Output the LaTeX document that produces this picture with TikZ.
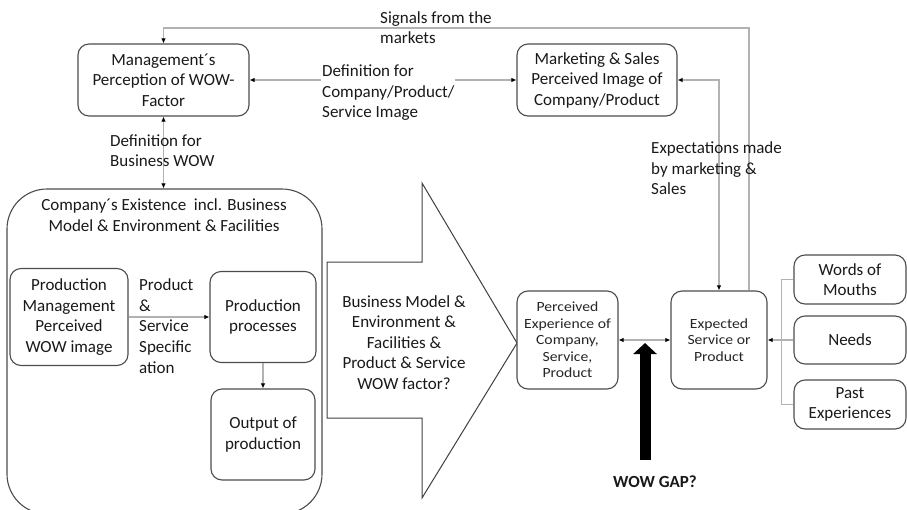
\documentclass[tikz,border=0pt]{standalone}
\usepackage{fontspec}
\setmainfont{Carlito}
\newfontfamily\widefont[FakeStretch=1.12]{Carlito}
\usetikzlibrary{arrows.meta}
\begin{document}
\begin{tikzpicture}[x=1pt,y=-1pt,
  bigtxt/.style={font=\fontsize{17}{20.5}\selectfont, text=black!90},
  smalltxt/.style={font=\widefont\fontsize{14}{16.5}\selectfont, text=black!85},
  box/.style={draw=black!70, line width=1.1pt, rounded corners=11pt, align=center,
    inner sep=0pt, fill=white},
  conn/.style={draw=black!30, line width=1.2pt},
  tip/.style={-{Latex[length=5pt,width=4.5pt,color=black]}},
  tips/.style={{Latex[length=5pt,width=4.5pt,color=black]}-{Latex[length=5pt,width=4.5pt,color=black]}},
  lbl/.style={bigtxt, align=left, anchor=west, inner sep=0pt}
]
\useasboundingbox (0,0) rectangle (907,509);
\clip (0,0) rectangle (907,509);

% company container
\node[box, rounded corners=40pt, minimum width=315pt, minimum height=325pt] (comp) at (164.5,351.5) {};
\node[bigtxt, align=center, inner sep=0pt] (comptitle) at (164,215)
  {Company´s Existence~ incl. Business\\Model \& Environment \& Facilities};

% management boxes
\node[box, bigtxt, minimum width=171pt, minimum height=72pt] (mgmt) at (163.5,80)
  {Management´s\\Perception of WOW-\\Factor};
\node[box, bigtxt, minimum width=160pt, minimum height=72pt] (mkt) at (597,80)
  {Marketing \& Sales\\Perceived Image of\\Company/Product};

% production boxes
\node[box, bigtxt, minimum width=118pt, minimum height=97pt] (pm) at (69,317)
  {Production\\Management\\Perceived\\WOW image};
\node[box, bigtxt, minimum width=106pt, minimum height=91pt] (pp) at (263,317)
  {Production\\processes};
\node[box, bigtxt, minimum width=104pt, minimum height=91pt] (out) at (263,434.5)
  {Output of\\production};

% big arrow
\draw[draw=black!75, line width=1pt, fill=white]
  (327,262) -- (422,262) -- (422,183) -- (517,343) -- (422,498) -- (422,418) -- (327,418) -- cycle;
\node[bigtxt, align=center, inner sep=0pt] (bm) at (404,342.5)
  {Business Model \&\\Environment \&\\Facilities \&\\Product \& Service\\WOW factor?};

% experience boxes
\node[box, smalltxt, minimum width=101pt, minimum height=98pt] (perc) at (567.5,340)
  {Perceived\\Experience of\\Company,\\Service,\\Product};
\node[box, smalltxt, minimum width=96pt, minimum height=98pt] (exp) at (719,340)
  {Expected\\Service or\\Product};

% customer inputs
\node[box, bigtxt, minimum width=112pt, minimum height=49pt] (wom) at (850,279.5)
  {Words of\\Mouths};
\node[box, bigtxt, minimum width=112pt, minimum height=48pt] (needs) at (850,340)
  {Needs};
\node[box, bigtxt, minimum width=112pt, minimum height=49pt] (past) at (850,404.5)
  {Past\\Experiences};

% connectors
\coordinate (topR) at (749,28);
\draw[conn, tip] (exp.north -| topR) -- (topR) -| (mgmt.north);
\draw[conn, tips] (mgmt.east) -- (mkt.west);
\draw[conn, tips] (mkt.east) -| (exp.north);
\draw[conn, tips] (mgmt.south) -- (mgmt.south |- comp.north);
\draw[conn, tip] (pm.east) -- (pp.west);
\draw[conn, tip] (pp.south) -- (out.north);
\draw[conn, tips] (perc.east) -- (exp.west);
\draw[conn, tip] (needs.west) -- (exp.east);
\draw[conn] (wom.west) -- ++(-12,0) |- (past.west);

% labels
\node[lbl] (lsig) at (380,27.5) {Signals from the\\markets};
\node[lbl, fill=white, inner sep=1pt] (ldef) at (321,93) {Definition for\\Company/Product/\\Service Image};
\node[lbl] (lbiz) at (110,150.5) {Definition for\\Business WOW};
\node[lbl] (lexp) at (651,168.5) {Expectations made\\by marketing \&\\Sales};
\node[lbl, font=\fontsize{17}{20.7}\selectfont] (lpss) at (139,326) {Product\\\&\\Service\\Specific\\ation};

% wow gap
\coordinate (gapbase) at (645,460);
\coordinate (gaptip) at (645,343);
\draw[black, line width=11pt, -{Triangle[length=11pt,width=23pt]}] (gapbase) -- (gaptip);
\node[bigtxt, font=\fontsize{17}{20.5}\bfseries, inner sep=0pt] (gap) at (655,482) {WOW GAP?};
\end{tikzpicture}
\end{document}
